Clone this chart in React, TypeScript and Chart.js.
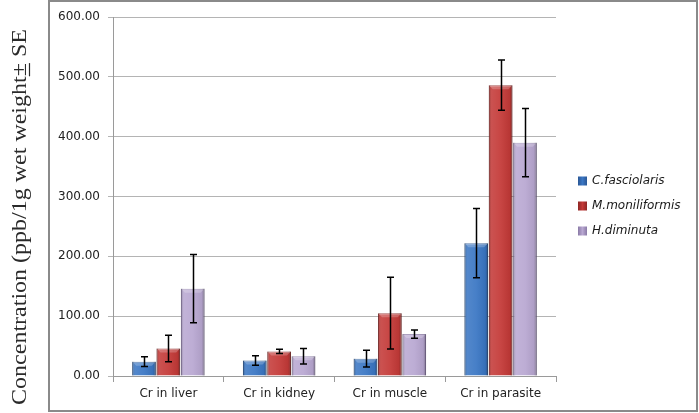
import React, { useEffect, useRef } from "react";
import { Chart, registerables } from "chart.js";

Chart.register(...registerables);

// ---- data ----
const categories = ["Cr in liver", "Cr in kidney", "Cr in muscle", "Cr in parasite"];
const seriesNames = ["C.fasciolaris", "M.moniliformis", "H.diminuta"];
const cFasciolaris = [24, 26, 29, 222];
const cFasciolarisSE = [8, 8, 14, 58];
const mMoniliformis = [46, 41, 105, 486];
const mMoniliformisSE = [22, 3.5, 60, 42];
const hDiminuta = [146, 33, 70, 390];
const hDiminutaSE = [57, 13, 7, 57];
const yMin = 0;
const yMax = 600;
const yStep = 100;
const yTitlePrefix = "Concentration (ppb/1g wet weight";
const yTitlePm = "\u00B1";
const yTitleSuffix = " SE";

const fillColors = ["#3b77c4", "#c43a38", "#b9a8d2"];
const edgeColors = ["#2a5795", "#8e2624", "#8a7aa6"];

const framePlugin = {
  id: "frame",
  beforeDraw(chart: any) {
    const c = chart.ctx;
    c.save();
    c.fillStyle = "#ffffff";
    c.fillRect(0, 0, chart.width, chart.height);
    c.strokeStyle = "#8a8a8a";
    c.lineWidth = 2;
    c.strokeRect(49, 1, 648, 410);
    c.restore();
  },
};

const shadeAndErrorPlugin = {
  id: "shadeErr",
  afterDatasetsDraw(chart: any) {
    const c = chart.ctx;
    const yScale = chart.scales.y;
    c.save();
    chart.data.datasets.forEach((ds: any, d: number) => {
      const meta = chart.getDatasetMeta(d);
      meta.data.forEach((el: any) => {
        const left = el.x - el.width / 2;
        const w = el.width;
        const top = el.y;
        const h = el.base - el.y;
        const g = c.createLinearGradient(left, 0, left + w, 0);
        g.addColorStop(0, "rgba(0,0,0,0.28)");
        g.addColorStop(0.12, "rgba(255,255,255,0.12)");
        g.addColorStop(0.5, "rgba(255,255,255,0.06)");
        g.addColorStop(0.88, "rgba(0,0,0,0.06)");
        g.addColorStop(1, "rgba(0,0,0,0.32)");
        c.fillStyle = g;
        c.fillRect(left, top, w, h);
        const bh = Math.min(4, h);
        c.fillStyle = "rgba(255,255,255,0.22)";
        c.beginPath();
        c.moveTo(left, top);
        c.lineTo(left + w, top);
        c.lineTo(left + w - bh, top + bh);
        c.lineTo(left + bh, top + bh);
        c.closePath();
        c.fill();
      });
    });
    c.strokeStyle = "#000000";
    c.lineWidth = 1.5;
    chart.data.datasets.forEach((ds: any, d: number) => {
      const meta = chart.getDatasetMeta(d);
      meta.data.forEach((el: any, i: number) => {
        const v = ds.data[i];
        const e = ds.errors[i];
        const x = Math.round(el.x) + 0.5;
        const yt = yScale.getPixelForValue(v + e);
        const yb = yScale.getPixelForValue(v - e);
        c.beginPath();
        c.moveTo(x, yt);
        c.lineTo(x, yb);
        c.moveTo(x - 3.5, yt);
        c.lineTo(x + 3.5, yt);
        c.moveTo(x - 3.5, yb);
        c.lineTo(x + 3.5, yb);
        c.stroke();
      });
    });
    c.restore();
  },
};

const legendTitlePlugin = {
  id: "legendTitle",
  afterDraw(chart: any) {
    const c = chart.ctx;
    c.save();
    chart.data.datasets.forEach((ds: any, d: number) => {
      const y = 181 + d * 25;
      const bx = 578;
      const g = c.createLinearGradient(bx, 0, bx + 9, 0);
      g.addColorStop(0, edgeColors[d]);
      g.addColorStop(0.5, fillColors[d]);
      g.addColorStop(1, edgeColors[d]);
      c.fillStyle = g;
      c.fillRect(bx, y - 4.5, 9, 9);
      c.fillStyle = "#1a1a1a";
      c.font = 'italic 12px "DejaVu Sans"';
      c.textBaseline = "middle";
      c.textAlign = "left";
      c.fillText(ds.label, 592, y);
    });
    c.restore();
    c.save();
    c.translate(21, 217);
    c.rotate(-Math.PI / 2);
    c.scale(1.2, 1);
    c.font = '20px "Liberation Serif"';
    c.fillStyle = "#2a2a2a";
    c.textBaseline = "middle";
    c.textAlign = "left";
    const w1 = c.measureText(yTitlePrefix).width;
    const w2 = c.measureText(yTitlePm).width;
    const w3 = c.measureText(yTitleSuffix).width;
    const total = w1 + w2 + w3;
    const x = -total / 2;
    c.fillText(yTitlePrefix, x, 0);
    c.fillText(yTitlePm, x + w1, 0);
    c.fillText(yTitleSuffix, x + w1 + w2, 0);
    c.strokeStyle = "#2a2a2a";
    c.lineWidth = 1.2;
    c.beginPath();
    c.moveTo(x + w1, 8.5);
    c.lineTo(x + w1 + w2, 8.5);
    c.stroke();
    c.restore();
  },
};

export default function App() {
  const ref = useRef<HTMLCanvasElement | null>(null);
  useEffect(() => {
    if (!ref.current) return;
    const values = [cFasciolaris, mMoniliformis, hDiminuta];
    const errs = [cFasciolarisSE, mMoniliformisSE, hDiminutaSE];
    const chart = new Chart(ref.current, {
      type: "bar",
      data: {
        labels: categories,
        datasets: seriesNames.map((name, d) => ({
          label: name,
          data: values[d],
          errors: errs[d],
          backgroundColor: fillColors[d],
          borderColor: edgeColors[d],
          borderWidth: 1,
          categoryPercentage: 0.66,
          barPercentage: 0.97,
        })) as any,
      },
      options: {
        animation: false,
        responsive: false,
        maintainAspectRatio: false,
        layout: { padding: { left: 0, right: 143, top: 17, bottom: 0 } },
        plugins: {
          legend: { display: false },
          tooltip: { enabled: false },
        },
        scales: {
          x: {
            offset: true,
            grid: {
              offset: true,
              drawOnChartArea: false,
              drawTicks: true,
              tickLength: 6,
              color: "#9a9a9a",
            },
            border: { display: true, color: "#9a9a9a", width: 1 },
            ticks: {
              color: "#222222",
              padding: 5,
              font: { family: "DejaVu Sans", size: 12 },
              maxRotation: 0,
            },
            afterFit: (s: any) => {
              s.height = 37;
            },
          },
          y: {
            min: yMin,
            max: yMax,
            grid: {
              color: "#b4b4b4",
              drawTicks: true,
              tickLength: 5,
            },
            border: { display: true, color: "#9a9a9a", width: 1 },
            ticks: {
              stepSize: yStep,
              color: "#222222",
              padding: 8,
              font: { family: "DejaVu Sans", size: 12 },
              callback: (v: any) => Number(v).toFixed(2),
            },
            afterFit: (s: any) => {
              s.width = 113;
            },
          },
        },
      },
      plugins: [framePlugin, shadeAndErrorPlugin, legendTitlePlugin],
    });
    return () => chart.destroy();
  }, []);
  return (
    <div style={{ position: "absolute", left: 0, top: 0, width: 699, height: 413 }}>
      <canvas ref={ref} width={699} height={413} style={{ display: "block" }} />
    </div>
  );
}
